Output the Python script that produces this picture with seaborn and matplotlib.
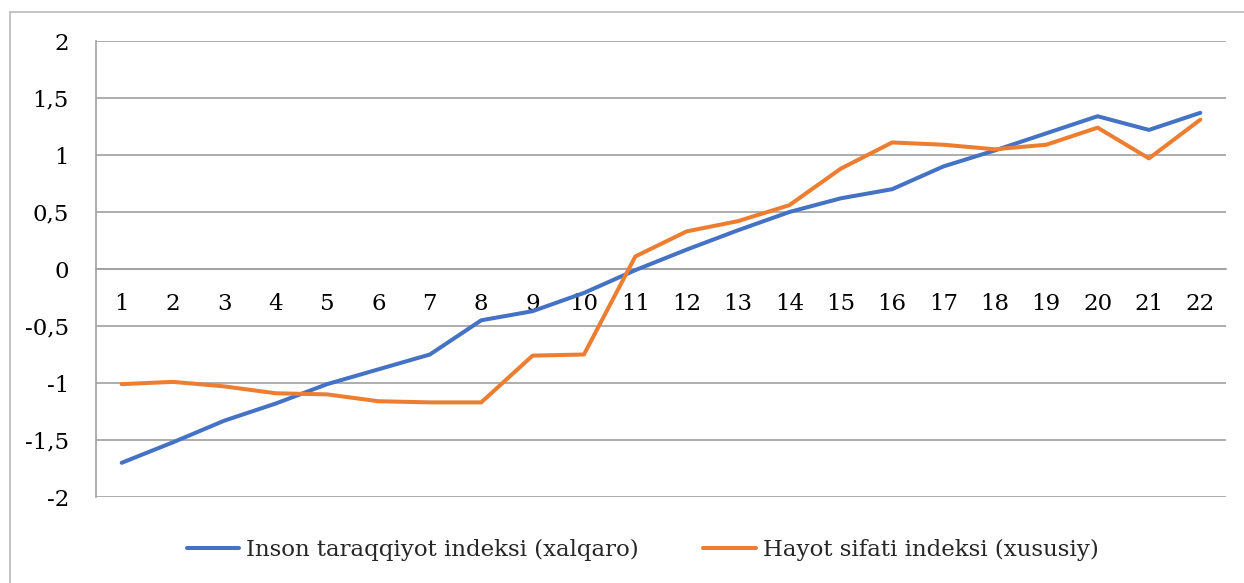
import matplotlib
matplotlib.use("Agg")
import matplotlib.pyplot as plt
import seaborn as sns
import pandas as pd
from matplotlib.patches import Rectangle
from matplotlib.ticker import FixedLocator, FuncFormatter

# ---- data ----
categories = list(range(1, 23))
inson = [-1.70, -1.52, -1.33, -1.18, -1.01, -0.88, -0.75, -0.45, -0.37, -0.21, -0.01,
         0.17, 0.34, 0.50, 0.62, 0.70, 0.90, 1.04, 1.19, 1.34, 1.22, 1.37]
hayot = [-1.01, -0.99, -1.03, -1.09, -1.10, -1.16, -1.17, -1.17, -0.76, -0.75, 0.11,
         0.33, 0.42, 0.56, 0.88, 1.11, 1.09, 1.05, 1.09, 1.24, 0.97, 1.31]
series_names = ["Inson taraqqiyot indeksi (xalqaro)", "Hayot sifati indeksi (xususiy)"]
y_ticks = [-2, -1.5, -1, -0.5, 0, 0.5, 1, 1.5, 2]

sns.set_style("white")
plt.rcParams['font.family'] = ['DejaVu Serif', 'Liberation Serif']

df = pd.DataFrame({
    "x": categories * 2,
    "y": inson + hayot,
    "series": [series_names[0]] * len(categories) + [series_names[1]] * len(categories),
})

fig = plt.figure(figsize=(12.44, 5.83), dpi=100)
ax = fig.add_axes([96 / 1244, 1 - 497 / 583, (1226 - 96) / 1244, (497 - 41) / 583])

grid_c = "#a0a0a0"
for t in y_ticks:
    ax.axhline(t, color=grid_c, lw=1.2, zorder=0)

sns.lineplot(data=df, x="x", y="y", hue="series",
             palette=["#4472C4", "#ED7D31"], linewidth=2.9, ax=ax, zorder=3)

ax.set_xlim(0.5, 22.5)
ax.set_ylim(-2, 2)
ax.set_xlabel("")
ax.set_ylabel("")

for s in ["top", "right"]:
    ax.spines[s].set_visible(False)
ax.spines["bottom"].set_position(("data", 0))
ax.spines["bottom"].set_color(grid_c)
ax.spines["bottom"].set_linewidth(1.2)
ax.spines["left"].set_color(grid_c)
ax.spines["left"].set_linewidth(1.2)

ax.yaxis.set_major_locator(FixedLocator(y_ticks))
ax.yaxis.set_major_formatter(FuncFormatter(lambda v, p: ("%g" % v).replace(".", ",")))
ax.tick_params(axis="y", which="major", length=6.5, width=1.2, color=grid_c,
               direction="out", pad=13, labelsize=16.5, labelcolor="black")

ax.xaxis.set_major_locator(FixedLocator(categories))
ax.xaxis.set_minor_locator(FixedLocator([c + 0.5 for c in [0] + categories]))
ax.set_xticklabels([str(c) for c in categories])
ax.tick_params(axis="x", which="major", length=0, pad=17, labelsize=16.5, labelcolor="black")
ax.tick_params(axis="x", which="minor", length=5, width=1.2, color=grid_c, direction="out")

leg = ax.legend(loc="center", bbox_to_anchor=(0.5165, 0.0566),
                bbox_transform=fig.transFigure, ncol=2, frameon=False,
                fontsize=16.5, handlelength=2.3, handletextpad=0.3, columnspacing=2.8)

fig.patches.append(Rectangle((10 / 1244, -0.1), 1.2, 1 - 12 / 583 + 0.1,
                             transform=fig.transFigure, fill=False,
                             edgecolor="#bfbfbf", lw=1.3, zorder=0))

fig.savefig("out.png", dpi=100)
